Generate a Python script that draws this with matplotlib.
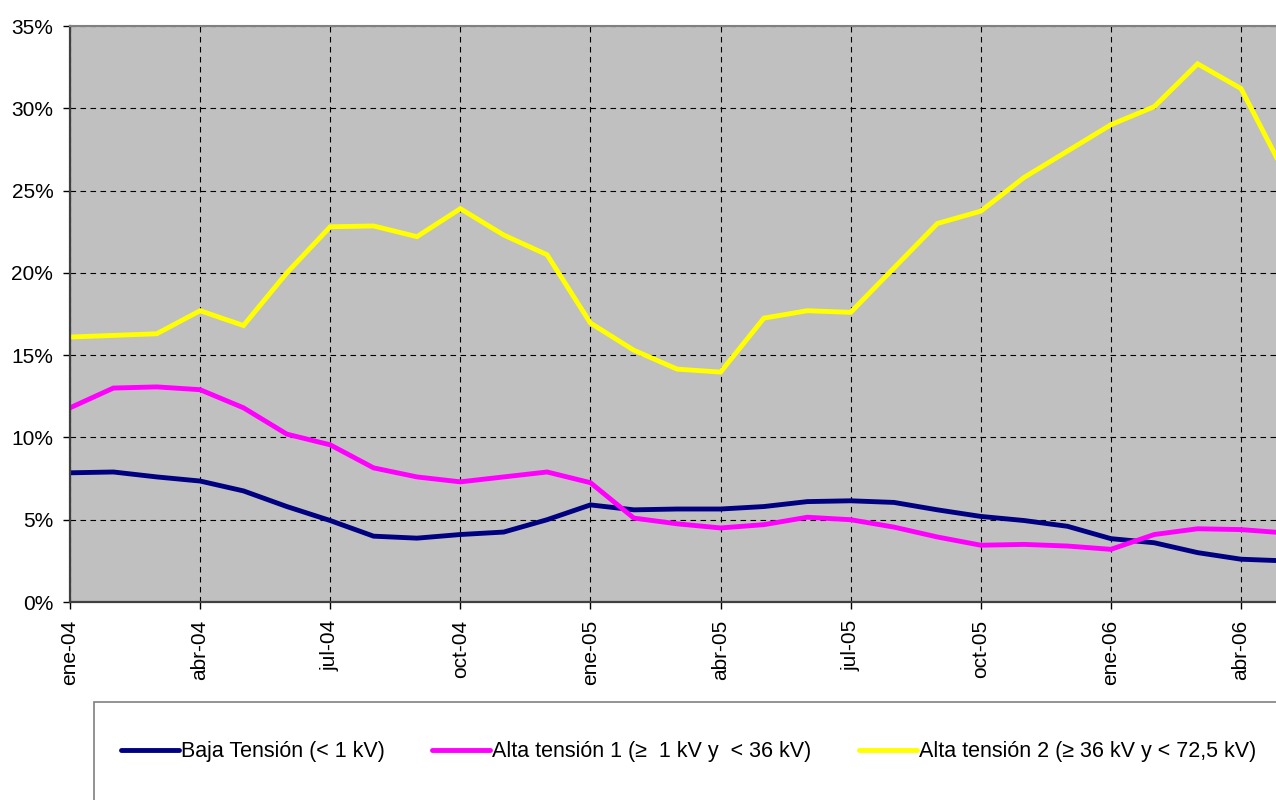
import matplotlib
matplotlib.use('Agg')
from matplotlib import pyplot as plt
from matplotlib.patches import Rectangle
import matplotlib.ticker as mticker

plt.rcParams['font.family'] = ['Liberation Sans', 'DejaVu Sans']

# monthly values, ene-04 .. may-06 (%)
months = ['ene-04', 'feb-04', 'mar-04', 'abr-04', 'may-04', 'jun-04', 'jul-04', 'ago-04',
          'sep-04', 'oct-04', 'nov-04', 'dic-04', 'ene-05', 'feb-05', 'mar-05', 'abr-05',
          'may-05', 'jun-05', 'jul-05', 'ago-05', 'sep-05', 'oct-05', 'nov-05', 'dic-05',
          'ene-06', 'feb-06', 'mar-06', 'abr-06', 'may-06']
baja = [7.85, 7.9, 7.6, 7.35, 6.75, 5.8, 4.95, 4.0, 3.88, 4.1, 4.25, 5.0, 5.9, 5.6, 5.65,
        5.65, 5.8, 6.1, 6.15, 6.05, 5.6, 5.2, 4.95, 4.6, 3.85, 3.6, 3.0, 2.6, 2.5]
alta1 = [11.8, 13.0, 13.07, 12.9, 11.8, 10.2, 9.55, 8.15, 7.6, 7.3, 7.6, 7.9, 7.25, 5.1, 4.75,
         4.5, 4.7, 5.15, 5.0, 4.55, 3.95, 3.45, 3.5, 3.4, 3.2, 4.1, 4.45, 4.4, 4.2]
alta2 = [16.1, 16.2, 16.3, 17.7, 16.8, 20.0, 22.8, 22.85, 22.2, 23.9, 22.3, 21.1, 16.95, 15.3,
         14.15, 13.97, 17.25, 17.7, 17.6, 20.3, 23.0, 23.75, 25.8, 27.4, 29.0, 30.1, 32.7, 31.2, 26.1]
labels = ['Baja Tensión (< 1 kV)', 'Alta tensión 1 (≥  1 kV y  < 36 kV)',
          'Alta tensión 2 (≥ 36 kV y < 72,5 kV)']
colors = ['#000080', '#FF00FF', '#FFFF00']

fig = plt.figure(figsize=(12.76, 8), dpi=100)
ax = fig.add_axes([70 / 1276, 1 - 602 / 800, 1 - 70 / 1276, (602 - 26) / 800])
ax.set_facecolor('#C0C0C0')

x = list(range(len(months)))
for vals, lab, col in zip([baja, alta1, alta2], labels, colors):
    ax.plot(x, vals, color=col, lw=3.5, label=lab, solid_joinstyle='miter',
            solid_capstyle='round')

ax.set_xlim(0, (1276 - 70) / 43.37)
ax.set_ylim(0, 35)
ax.yaxis.set_major_locator(mticker.MultipleLocator(5))
ax.yaxis.set_major_formatter(mticker.FuncFormatter(lambda v, p: f'{v:.0f}%'))
ax.set_xticks(x[::3])
ax.set_xticklabels(months[::3], rotation=90)
ax.tick_params(labelsize=15, direction='out', length=5, width=1, colors='black')
ax.tick_params(axis='x', pad=8)
ax.tick_params(axis='y', pad=7)
ax.grid(True, color='black', ls=(0, (5, 4)), lw=0.8)

for s in ['left', 'bottom']:
    ax.spines[s].set_color('#404040')
    ax.spines[s].set_linewidth(1.6)
ax.spines['top'].set_color('#808080')
ax.spines['top'].set_linewidth(1.5)
ax.spines['right'].set_visible(False)

# legend frame running past the figure edge
fig.patches.append(Rectangle((94 / 1276, -0.1), 1.0, 1 - 702 / 800 + 0.1,
                             transform=fig.transFigure, fill=False,
                             edgecolor='#808080', lw=1.2))
fig.legend(loc='center left', bbox_to_anchor=(112 / 1276, 1 - 752 / 800), ncol=3,
           frameon=False, fontsize=15.5, handlelength=2.7, handletextpad=0.1,
           columnspacing=2.2, borderaxespad=0)

fig.savefig('out.png', dpi=100)
